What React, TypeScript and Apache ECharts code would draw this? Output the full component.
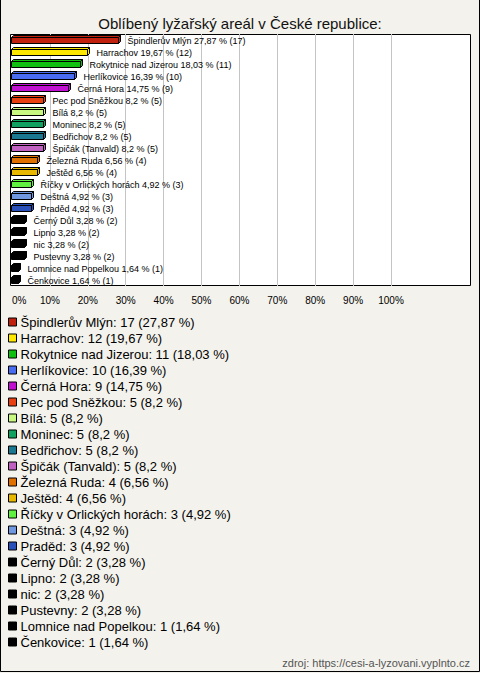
import React, { useEffect, useRef } from "react";
import * as echarts from "echarts";

const names = [
  "Špindlerův Mlýn", "Harrachov", "Rokytnice nad Jizerou", "Herlíkovice", "Černá Hora",
  "Pec pod Sněžkou", "Bílá", "Moninec", "Bedřichov", "Špičák (Tanvald)",
  "Železná Ruda", "Ještěd", "Říčky v Orlických horách", "Deštná", "Praděd",
  "Černý Důl", "Lipno", "nic", "Pustevny", "Lomnice nad Popelkou", "Čenkovice",
];
const counts = [17, 12, 11, 10, 9, 5, 5, 5, 5, 5, 4, 4, 3, 3, 3, 2, 2, 2, 2, 1, 1];
const percents = [27.87, 19.67, 18.03, 16.39, 14.75, 8.2, 8.2, 8.2, 8.2, 8.2, 6.56, 6.56, 4.92, 4.92, 4.92, 3.28, 3.28, 3.28, 3.28, 1.64, 1.64];
const colors = [
  "#c0200e", "#ffe800", "#10c010", "#4a6cf0", "#c010d0",
  "#e84010", "#c8f880", "#10a060", "#1a7890", "#c060c0",
  "#e07000", "#e8b800", "#60f040", "#7098e0", "#2850b8",
  "#000000", "#000000", "#000000", "#000000", "#000000", "#000000",
];
const titleText = "Oblíbený lyžařský areál v České republice:";
const sourceText = "zdroj: https://cesi-a-lyzovani.vyplnto.cz";

const FONT = '"Liberation Sans", Arial, sans-serif';
const fmt = (p: number) => String(p).replace(".", ",");

function makeRender(i: number) {
  return (params: any, api: any) => {
    const v = api.value(0);
    const ci = api.value(1);
    const p0 = api.coord([0, ci]);
    const p1 = api.coord([v, ci]);
    const c = Math.round(p0[1]);
    const x0 = Math.round(p0[0]) - 0.5;
    const x1 = Math.round(p1[0]) + 0.5;
    const top = c - 2.5;
    const bot = c + 3.5;
    const d = 2;
    const color = colors[i];
    const stroke = { stroke: "#000", lineWidth: 1, fill: color };
    return {
      type: "group",
      children: [
        { type: "polygon", shape: { points: [[x0, top], [x0 + d, top - d], [x1 + d, top - d], [x1, top]] }, style: stroke },
        { type: "polygon", shape: { points: [[x1, top], [x1 + d, top - d], [x1 + d, bot - d], [x1, bot]] }, style: stroke },
        { type: "rect", shape: { x: x0, y: top, width: x1 - x0, height: bot - top }, style: stroke },
        {
          type: "text",
          style: {
            text: `${names[i]} ${fmt(percents[i])} % (${counts[i]})`,
            x: x1 + 9,
            y: c + 1,
            fill: "#000",
            font: `9px ${FONT}`,
            align: "left",
            verticalAlign: "middle",
          },
        },
      ],
    };
  };
}

export default function App() {
  const ref = useRef<HTMLDivElement>(null);
  useEffect(() => {
    if (!ref.current) return;
    const chart = echarts.init(ref.current, null, { renderer: "svg" });
    chart.setOption({
      animation: false,
      backgroundColor: "#f3f2ec",
      title: {
        text: titleText,
        left: "center",
        top: 11,
        textStyle: { fontSize: 15, fontWeight: "normal", color: "#111", fontFamily: FONT },
      },
      grid: { left: 12, top: 34, width: 379, height: 252 },
      xAxis: {
        type: "value",
        min: 0,
        max: 100,
        interval: 10,
        axisLine: { show: false },
        axisTick: { show: false },
        splitLine: { show: true, showMinLine: false, lineStyle: { color: "#c4c4c4", width: 1 } },
        axisLabel: { formatter: "{value}%", fontSize: 10, color: "#000", fontFamily: FONT, margin: 9, alignMinLabel: "left" },
      },
      yAxis: { type: "category", data: names, inverse: true, show: false },
      legend: {
        orient: "vertical",
        left: 8,
        top: 314,
        padding: 0,
        itemGap: 0,
        itemWidth: 8,
        itemHeight: 8,
        icon: "rect",
        selectedMode: false,
        itemStyle: { borderColor: "#000", borderWidth: 1 },
        textStyle: { fontSize: 13, color: "#000", fontFamily: FONT, lineHeight: 16, padding: [0, 0, 0, -1] },
        formatter: (name: string) => {
          const idx = names.indexOf(name);
          return `${name}: ${counts[idx]} (${fmt(percents[idx])} %)`;
        },
        data: names,
      },
      graphic: [
        { type: "rect", z: -10, silent: true, shape: { x: 10.5, y: 34.5, width: 460, height: 251 }, style: { fill: "#fff", stroke: "#000", lineWidth: 1 } },
        { type: "polyline", silent: true, shape: { points: [[0.5, 0], [0.5, 671.5], [479.5, 671.5], [479.5, 0]] }, style: { stroke: "#000", lineWidth: 1, fill: null } },
        { type: "text", silent: true, style: { text: sourceText, x: 470, y: 663, align: "right", verticalAlign: "middle", fill: "#555", font: `11px ${FONT}` } },
      ],
      series: names.map((name, i) => ({
        type: "custom",
        name,
        coordinateSystem: "cartesian2d",
        itemStyle: { color: colors[i] },
        encode: { x: 0, y: 1 },
        data: [[percents[i], i]],
        renderItem: makeRender(i),
        z: 5,
      })),
    });
    return () => chart.dispose();
  }, []);
  return <div ref={ref} style={{ position: "absolute", left: 0, top: 0, width: 480, height: 673 }} />;
}
